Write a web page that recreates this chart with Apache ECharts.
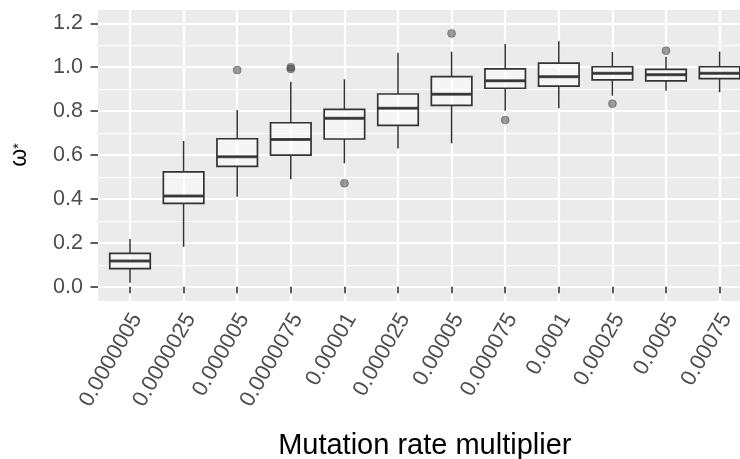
<!DOCTYPE html>
<html>
<head>
<meta charset="utf-8">
<script src="https://cdn.jsdelivr.net/npm/echarts@6/dist/echarts.min.js"></script>
<style>
html,body{margin:0;padding:0;background:#fff;}
#chart{width:740px;height:459px;}
</style>
</head>
<body>
<div id="chart"></div>
<script>
const categories = ['0.0000005','0.0000025','0.000005','0.0000075','0.00001','0.000025','0.00005','0.000075','0.0001','0.00025','0.0005','0.00075'];
const whiskerLow  = [0.018, 0.182, 0.410, 0.489, 0.562, 0.630, 0.653, 0.802, 0.813, 0.870, 0.893, 0.886];
const q1Values    = [0.082, 0.380, 0.548, 0.599, 0.673, 0.735, 0.826, 0.904, 0.914, 0.942, 0.938, 0.948];
const medians     = [0.117, 0.413, 0.592, 0.671, 0.767, 0.813, 0.877, 0.938, 0.957, 0.972, 0.966, 0.972];
const q3Values    = [0.152, 0.523, 0.674, 0.747, 0.808, 0.878, 0.957, 0.992, 1.019, 1.002, 0.990, 1.002];
const whiskerHigh = [0.217, 0.664, 0.805, 0.934, 0.945, 1.066, 1.071, 1.106, 1.118, 1.069, 1.048, 1.071];
// outliers: [category index, value]
const outliers = [[2, 0.987], [3, 1.000], [3, 0.992], [4, 0.471], [6, 1.154], [7, 0.759], [9, 0.834], [10, 1.075]];
const yTicks = [0, 1.2, 0.2];

const FONT = 'Liberation Sans';
const chart = echarts.init(document.getElementById('chart'), null, {renderer: 'canvas'});

const boxData = categories.map((c, i) => [q1Values[i], q1Values[i], medians[i], q3Values[i], q3Values[i]]);
const whiskerData = categories.map((c, i) => [i, whiskerLow[i], q1Values[i], q3Values[i], whiskerHigh[i]]);
const medianData = categories.map((c, i) => [i, medians[i]]);

const PANEL_TOP = 10, PANEL_BOTTOM = 301, PANEL_LEFT = 98;
const TICK_TOP = 23.3, TICK_BOTTOM = 286.7;
const pxPerUnit = (TICK_BOTTOM - TICK_TOP) / (yTicks[1] - yTicks[0]);
const panelMax = yTicks[1] + (TICK_TOP - PANEL_TOP) / pxPerUnit;
const panelMin = yTicks[0] - (PANEL_BOTTOM - TICK_BOTTOM) / pxPerUnit;
const BAND = 53.6, FIRST_CENTER = 130;
const gridBase = {show: false, containLabel: false, outerBoundsMode: 'none'};

const option = {
  animation: false,
  backgroundColor: '#ffffff',
  grid: [
    Object.assign({}, gridBase, {left: PANEL_LEFT, right: 0, top: PANEL_TOP, height: PANEL_BOTTOM - PANEL_TOP, show: true, backgroundColor: '#EBEBEB', borderWidth: 0}),
    Object.assign({}, gridBase, {left: PANEL_LEFT, right: 0, top: TICK_TOP, height: TICK_BOTTOM - TICK_TOP}),
    Object.assign({}, gridBase, {left: FIRST_CENTER - BAND / 2, width: BAND * categories.length, top: PANEL_TOP, height: PANEL_BOTTOM - PANEL_TOP}),
    Object.assign({}, gridBase, {left: FIRST_CENTER, width: BAND * (categories.length - 1), top: PANEL_TOP, height: PANEL_BOTTOM - PANEL_TOP})
  ],
  xAxis: [
    {gridIndex: 0, type: 'value', show: false, min: 0, max: 1},
    {gridIndex: 1, type: 'value', show: false, min: 0, max: 1},
    {
      gridIndex: 2, type: 'category', data: categories, boundaryGap: true,
      axisLine: {show: false},
      axisTick: {show: true, alignWithLabel: true, length: 6.5, lineStyle: {color: '#333333', width: 1.6}},
      splitLine: {show: false},
      axisLabel: {rotate: 60, margin: 10, fontSize: 22, lineHeight: 16, align: 'right', verticalAlign: 'top',
                  fontFamily: FONT, color: '#4D4D4D', interval: 0},
      name: 'Mutation rate multiplier', nameLocation: 'middle', nameGap: 130,
      nameTextStyle: {fontSize: 29, fontFamily: FONT, color: '#000000'}
    },
    {
      gridIndex: 3, type: 'value', min: 0, max: categories.length - 1, interval: 1,
      axisLine: {show: false}, axisTick: {show: false}, axisLabel: {show: false},
      splitLine: {show: true, lineStyle: {color: '#ffffff', width: 2.2}}
    }
  ],
  yAxis: [
    {gridIndex: 0, type: 'value', show: false, min: 0, max: 1},
    {
      gridIndex: 1, type: 'value', min: yTicks[0], max: yTicks[1], interval: yTicks[2],
      axisLine: {show: false},
      axisTick: {show: true, length: 7.5, lineStyle: {color: '#333333', width: 1.6}},
      axisLabel: {margin: 15, fontSize: 21.5, fontFamily: FONT, color: '#4D4D4D', formatter: v => v.toFixed(1)},
      splitLine: {show: true, lineStyle: {color: '#ffffff', width: 2.2}},
      minorTick: {show: false, splitNumber: 2},
      minorSplitLine: {show: true, lineStyle: {color: '#ffffff', width: 1.1}},
      name: '{a|ω}{b|*}', nameLocation: 'middle', nameGap: 67, nameRotate: 90,
      nameTextStyle: {
        fontFamily: FONT, color: '#000000',
        rich: {a: {fontSize: 23, fontFamily: FONT, color: '#000'}, b: {fontSize: 14, fontFamily: FONT, color: '#000'}}
      }
    },
    {gridIndex: 2, type: 'value', show: false, min: panelMin, max: panelMax},
    {gridIndex: 3, type: 'value', show: false, min: 0, max: 1}
  ],
  series: [
    {
      type: 'custom', xAxisIndex: 2, yAxisIndex: 2, z: 2, silent: true,
      data: whiskerData,
      renderItem: function (params, api) {
        const x = api.value(0);
        const pLow = api.coord([x, api.value(1)]);
        const pQ1 = api.coord([x, api.value(2)]);
        const pQ3 = api.coord([x, api.value(3)]);
        const pHigh = api.coord([x, api.value(4)]);
        const style = {stroke: '#333333', lineWidth: 1.5, fill: null};
        return {type: 'group', children: [
          {type: 'line', shape: {x1: pLow[0], y1: pLow[1], x2: pQ1[0], y2: pQ1[1]}, style: style},
          {type: 'line', shape: {x1: pQ3[0], y1: pQ3[1], x2: pHigh[0], y2: pHigh[1]}, style: style}
        ]};
      }
    },
    {
      type: 'boxplot', xAxisIndex: 2, yAxisIndex: 2, z: 3, silent: true,
      boxWidth: [40.5, 40.5],
      data: boxData,
      itemStyle: {color: 'rgba(255,255,255,0.5)', borderColor: '#333333', borderWidth: 1.7}
    },
    {
      type: 'scatter', xAxisIndex: 2, yAxisIndex: 2, z: 4, silent: true,
      symbol: 'rect', symbolSize: [40.5, 3], data: medianData,
      itemStyle: {color: '#333333'}
    },
    {
      type: 'scatter', xAxisIndex: 2, yAxisIndex: 2, z: 5, silent: true,
      symbol: 'circle', symbolSize: 8, data: outliers,
      itemStyle: {color: 'rgba(51,51,51,0.6)', borderColor: 'rgba(51,51,51,0.45)', borderWidth: 1}
    }
  ]
};
chart.setOption(option);
</script>
</body>
</html>
